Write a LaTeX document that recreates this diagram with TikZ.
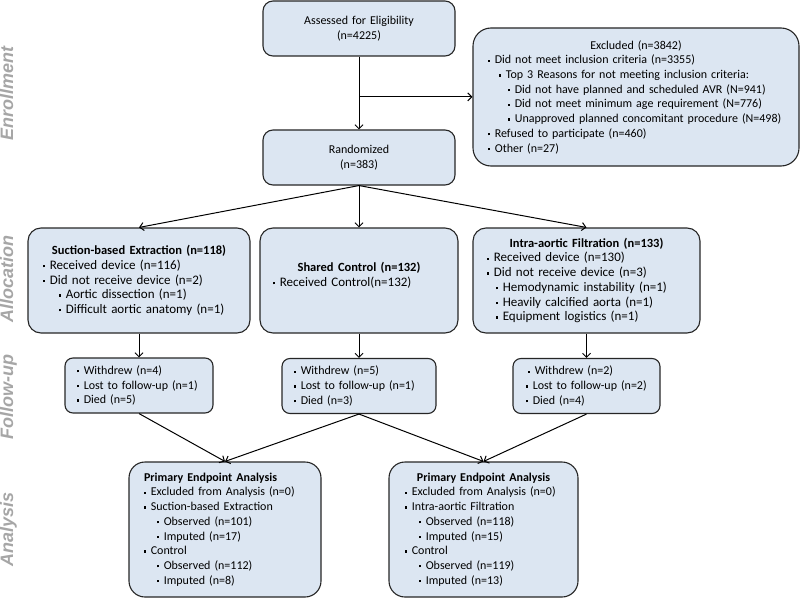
\documentclass[tikz,border=0pt]{standalone}
\usepackage{fontspec}
\setmainfont{Carlito}
\newfontfamily\sidefont{Liberation Sans}
\usepackage{tikz}
\usetikzlibrary{arrows.meta}
\usetikzlibrary{calc}
\usepackage{xcolor}

\definecolor{boxfill}{RGB}{220,230,242}
\definecolor{sidegray}{RGB}{166,166,166}

\newcommand{\bul}[2][0pt]{\hspace*{#1}\rule[2pt]{2.3pt}{2.3pt}\hspace{4.5pt}#2}
\newcommand{\ttl}[1]{\makebox[\linewidth][c]{#1}}
\newcommand{\armtitle}[1]{\ttl{\fontsize{12.5}{14.7}\selectfont\textbf{#1}}}

\tikzset{
  flowbox/.style={draw=black!85, line width=1.1pt, fill=boxfill, rounded corners=10pt,
    align=left, inner ysep=0pt, font=\fontsize{12}{14.7}\selectfont},
  armbox/.style={flowbox, rounded corners=13pt, minimum height=105pt,
    font=\fontsize{13}{14.7}\selectfont},
  arr/.style={-{Straight Barb[length=4pt,width=8pt]}, line width=1pt},
  phase/.style={rotate=90, anchor=base, inner sep=0pt, text=sidegray,
    font=\sidefont\bfseries\itshape\fontsize{18}{18}\selectfont}
}

\begin{document}
\begin{tikzpicture}[x=1pt,y=-1pt]
\useasboundingbox (0,0) rectangle (800,599);

% phases
\node[phase] (enr) at (13,93.5) {Enrollment};
\node[phase] (alc) at (13,279) {Allocation};
\node[phase] (fup) at (13,397.5) {Follow-up};
\node[phase] (ana) at (13,529.5) {Analysis};

% enrollment
\node[flowbox, align=center, text width=162pt, inner xsep=15pt, minimum height=55pt] (assess) at (359,28.5)
  {Assessed for Eligibility\\(n=4225)};
\node[flowbox, align=center, text width=162pt, inner xsep=15pt, minimum height=55pt] (rand) at (359,157.5)
  {Randomized\\(n=383)};
\node[flowbox, rounded corners=18pt, text width=296pt, inner xsep=15pt, minimum height=138pt] (excl) at (636,97)
  {\ttl{Excluded (n=3842)}\\
   \bul{Did not meet inclusion criteria (n=3355)}\\
   \bul[11pt]{Top 3 Reasons for not meeting inclusion criteria:}\\
   \bul[20pt]{Did not have planned and scheduled AVR (N=941)}\\
   \bul[20pt]{Did not meet minimum age requirement (N=776)}\\
   \bul[20pt]{Unapproved planned concomitant procedure (N=498)}\\
   \bul{Refused to participate (n=460)}\\
   \bul{Other (n=27)}};

% allocation
\node[armbox, text width=192pt, inner xsep=15pt] (suct) at (139,280.5)
  {\armtitle{Suction-based Extraction (n=118)}\\
   \bul{Received device (n=116)}\\
   \bul{Did not receive device (n=2)}\\
   \bul[16pt]{Aortic dissection (n=1)}\\
   \bul[16pt]{Difficult aortic anatomy (n=1)}};
\node[armbox, text width=172pt, inner xsep=13pt] (ctrl) at (359,280.5)
  {\armtitle{Shared Control (n=132)}\\
   \bul{Received Control(n=132)}\\[-2.7pt]\mbox{}};
\node[armbox, text width=199pt, inner xsep=14pt] (filt) at (586.5,280.5)
  {\armtitle{Intra-aortic Filtration (n=133)}\\
   \bul{Received device (n=130)}\\
   \bul{Did not receive device (n=3)}\\
   \bul[9pt]{Hemodynamic instability (n=1)}\\
   \bul[9pt]{Heavily calcified aorta (n=1)}\\
   \bul[9pt]{Equipment logistics (n=1)}};

% follow-up
\node[flowbox, rounded corners=8pt, text width=124pt, inner xsep=12pt, minimum height=55pt] (suctfu) at (139,385.5)
  {\bul{Withdrew (n=4)}\\ \bul{Lost to follow-up (n=1)}\\ \bul{Died (n=5)}};
\node[flowbox, rounded corners=8pt, text width=130pt, inner xsep=12pt, minimum height=55pt] (ctrlfu) at (359,386)
  {\bul{Withdrew (n=5)}\\ \bul{Lost to follow-up (n=1)}\\ \bul{Died (n=3)}};
\node[flowbox, rounded corners=8pt, text width=121pt, inner xsep=13pt, minimum height=55pt] (filtfu) at (586.5,386)
  {\bul[2pt]{Withdrew (n=2)}\\ \bul{Lost to follow-up (n=2)}\\ \bul{Died (n=4)}};

% analysis
\node[flowbox, rounded corners=16pt, text width=162pt, inner xsep=15pt, minimum height=135pt] (suctan) at (225,529.5)
  {\textbf{Primary Endpoint Analysis}\\
   \bul{Excluded from Analysis (n=0)}\\
   \bul{Suction-based Extraction}\\
   \bul[13pt]{Observed (n=101)}\\
   \bul[13pt]{Imputed (n=17)}\\
   \bul{Control}\\
   \bul[13pt]{Observed (n=112)}\\
   \bul[13pt]{Imputed (n=8)}};
\node[flowbox, rounded corners=16pt, text width=157pt, inner xsep=16pt, minimum height=135pt] (filtan) at (483.5,529.5)
  {\ttl{\textbf{Primary Endpoint Analysis}}\\
   \bul{Excluded from Analysis (n=0)}\\
   \bul{Intra-aortic Filtration}\\
   \bul[14pt]{Observed (n=118)}\\
   \bul[14pt]{Imputed (n=15)}\\
   \bul{Control}\\
   \bul[14pt]{Observed (n=119)}\\
   \bul[14pt]{Imputed (n=13)}};

% connectors
\coordinate (split) at ($(assess.south)!0.554!(rand.north)$);
\draw[arr] (assess) -- (rand);
\draw[arr] (split) -- (split -| excl.west);
\draw[arr] (rand.south) -- (suct.north);
\draw[arr] (rand) -- (ctrl);
\draw[arr] (rand.south) -- (filt.north);
\draw[arr] (suct) -- (suctfu);
\draw[arr] (ctrl) -- (ctrlfu);
\draw[arr] (filt) -- (filtfu);
\draw[arr] (suctfu.south) -- (suctan.north);
\draw[arr] (ctrlfu.south) -- (suctan.north);
\draw[arr] (ctrlfu.south) -- (filtan.north);
\draw[arr] (filtfu.south) -- (filtan.north);
\end{tikzpicture}
\end{document}
